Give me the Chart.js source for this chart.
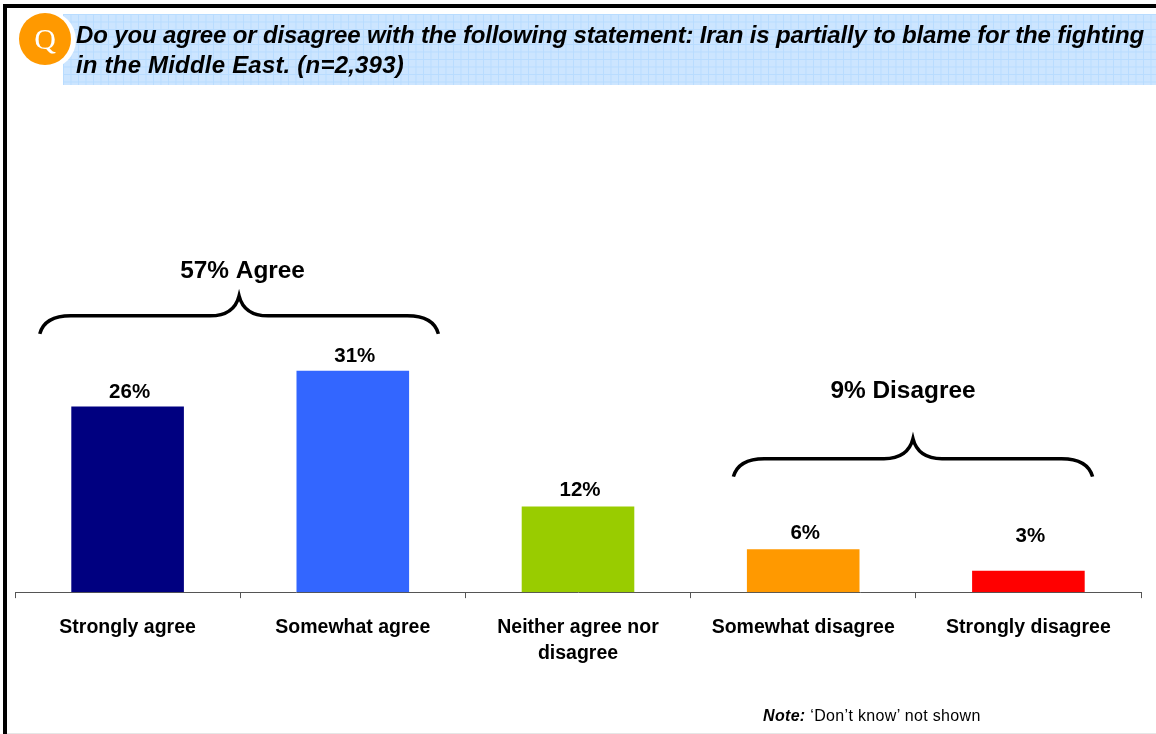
<!DOCTYPE html>
<html>
<head>
<meta charset="utf-8">
<script src="https://cdn.jsdelivr.net/npm/chart.js@4"></script>
<style>
  html, body { margin: 0; padding: 0; background: #fff; }
  #page { position: relative; width: 1156px; height: 734px; overflow: hidden; font-family: "Liberation Sans", sans-serif; }
  #myChart { position: absolute; left: 0; top: 0; }
  #frameTop { position: absolute; left: 3px; right: 0; top: 4px; height: 4px; background: #000; }
  #frameLeft { position: absolute; left: 3px; top: 4px; bottom: 0; width: 4px; background: #000; }
  #frameBottom { position: absolute; left: 7px; right: 0; bottom: 0; height: 1px; background: #e6e6e6; }
  #band {
    position: absolute; left: 63px; top: 14px; width: 1093px; height: 71px;
    background-color: #cce5ff;
    background-image:
      linear-gradient(to right, #b8dcff 1px, transparent 1px),
      linear-gradient(to bottom, #b8dcff 1px, transparent 1px);
    background-size: 7.5px 7.5px;
  }
  #question { position: absolute; left: 76px; top: 20px; font-weight: bold; font-style: italic; font-size: 24px; line-height: 30px; color: #000; white-space: nowrap; }
  #question span { display: block; }
  #badge {
    position: absolute; left: 19px; top: 13px; width: 52px; height: 52px; border-radius: 50%;
    background: #ff9900; box-shadow: 2px 1px 0 3px #fff; color: #fff;
    font-family: "Liberation Serif", serif; font-size: 30px; line-height: 52px; text-align: center;
  }
  #note { position: absolute; left: 763px; top: 707px; font-size: 16px; letter-spacing: 0.33px; color: #000; white-space: nowrap; }
</style>
</head>
<body>
<div id="page">
  <canvas id="myChart" width="1156" height="734"></canvas>
  <div id="frameTop"></div>
  <div id="frameLeft"></div>
  <div id="frameBottom"></div>
  <div id="band"></div>
  <div id="badge">Q</div>
  <div id="question"><span style="letter-spacing:-0.15px">Do you agree or disagree with the following statement: Iran is partially to blame for the fighting</span><span style="letter-spacing:0.2px">in the Middle East. (n=2,393)</span></div>
  <div id="note"><b><i>Note:</i></b> ‘Don’t know’ not shown</div>
</div>
<script>
var categories = ["Strongly agree", "Somewhat agree", ["Neither agree nor", "disagree"], "Somewhat disagree", "Strongly disagree"];
var values = [26, 31, 12, 6, 3];
var barColors = ["#000080", "#3366ff", "#99cc00", "#ff9900", "#ff0000"];

var groupLabels = ["57% Agree", "9% Disagree"];
var groupFrom = [0, 3];
var groupTo = [1, 4];
var groupValue = [38.7, 18.7];

// values on top of the bars (the 3% one sits higher, level with the 6%)
var barLabels = {
  id: 'barLabels',
  afterDatasetsDraw: function (chart) {
    var c = chart.ctx;
    var lift = [9, 9, 10, 10, 29];
    c.save();
    c.fillStyle = '#000';
    c.font = 'bold 20.5px "Liberation Sans"';
    c.textAlign = 'center';
    c.textBaseline = 'alphabetic';
    chart.getDatasetMeta(0).data.forEach(function (bar, i) {
      c.fillText(values[i] + '%', bar.x + 2, bar.y - lift[i]);
    });
    c.restore();
  }
};

// curly braces over the agree / disagree bars
var braces = {
  id: 'braces',
  afterDatasetsDraw: function (chart) {
    var c = chart.ctx;
    var xs = chart.scales.x;
    var ys = chart.scales.y;
    var step = xs.getPixelForValue(1) - xs.getPixelForValue(0);
    var startOff = [0.39, 0.31];
    var endOff = [0.38, 0.285];
    var textDx = [3.5, -10];
    var textDy = [38, 61];
    groupLabels.forEach(function (label, i) {
      var left = xs.getPixelForValue(groupFrom[i]) - step * startOff[i];
      var right = xs.getPixelForValue(groupTo[i]) + step * endOff[i];
      var mid = (left + right) / 2;
      var y = ys.getPixelForValue(groupValue[i]);
      c.save();
      c.strokeStyle = '#000';
      c.lineWidth = 3.5;
      c.beginPath();
      c.moveTo(left, y + 18);
      c.quadraticCurveTo(left + 5, y, left + 31, y);
      c.lineTo(mid - 29, y);
      c.quadraticCurveTo(mid - 5, y, mid, y - 20);
      c.quadraticCurveTo(mid + 5, y, mid + 29, y);
      c.lineTo(right - 31, y);
      c.quadraticCurveTo(right - 5, y, right, y + 18);
      c.stroke();
      c.fillStyle = '#000';
      c.font = 'bold 24.4px "Liberation Sans"';
      c.textAlign = 'center';
      c.fillText(label, mid + textDx[i], y - textDy[i]);
      c.restore();
    });
  }
};

var ctx = document.getElementById("myChart").getContext('2d');
var myChart = new Chart(ctx, {
  type: 'bar',
  data: {
    labels: categories,
    datasets: [{
      data: values,
      backgroundColor: barColors,
      barPercentage: 0.5,
      categoryPercentage: 1
    }]
  },
  plugins: [barLabels, braces],
  options: {
    responsive: false,
    animation: false,
    layout: { padding: { left: 15, right: 15, top: 21, bottom: 50 } },
    plugins: { legend: { display: false }, tooltip: { enabled: false } },
    scales: {
      x: {
        grid: { drawOnChartArea: false, color: '#555', tickLength: 6, tickColor: '#555', lineWidth: 1 },
        border: { color: '#555', width: 1 },
        ticks: { color: '#000', font: { family: '"Liberation Sans"', weight: 'bold', size: 19.5, lineHeight: 1.33 }, padding: 17, maxRotation: 0, autoSkip: false }
      },
      y: {
        display: false,
        min: 0,
        max: 80
      }
    }
  }
});
</script>
</body>
</html>
